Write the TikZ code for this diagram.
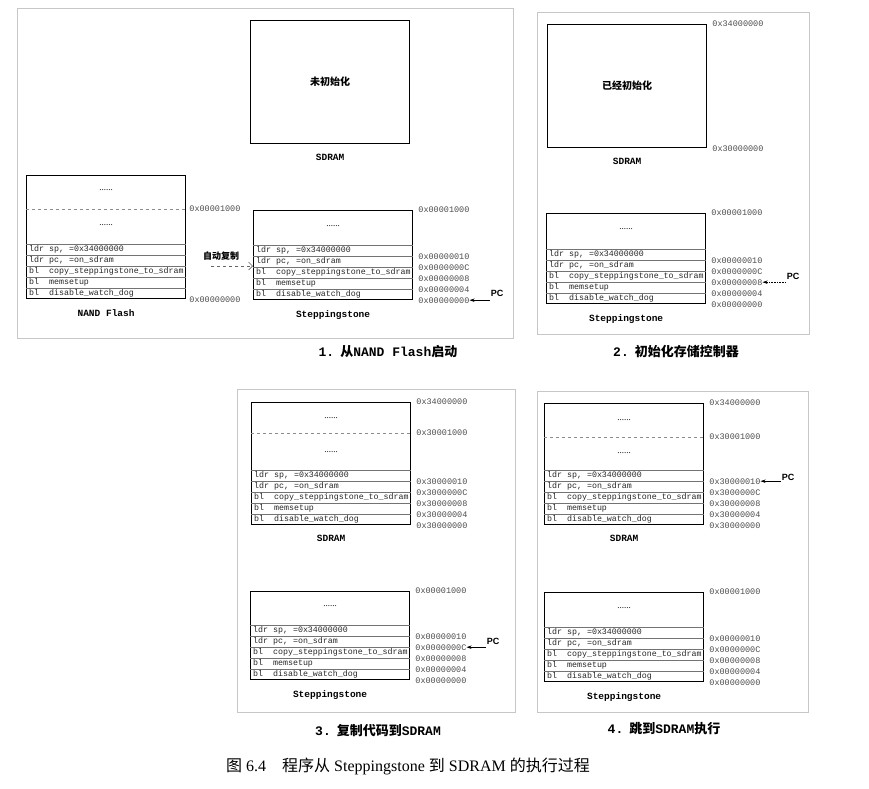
\documentclass[tikz,border=0pt]{standalone}
\usepackage{fontspec}
\setmainfont{Liberation Serif}
\setsansfont{Liberation Sans}
\setmonofont{Liberation Mono}
\newfontfamily\cjk{Noto Sans CJK SC}
\usetikzlibrary{arrows.meta, positioning, calc}

% five instruction rows at the bottom of a memory box
\newcommand{\coderows}[1]{%
  \foreach \i/\txt in {0/{bl\ \ disable\_watch\_dog}, 1/{bl\ \ memsetup}, 2/{bl\ \ copy\_steppingstone\_to\_sdram}, 3/{ldr pc, =on\_sdram}, 4/{ldr sp, =0x34000000}} {
    \node[instr] at ([xshift=3pt, yshift={\i*11pt+5.5pt}]#1.south west) {\txt};
    \draw[rowline] ([yshift={\i*11pt+11pt}]#1.south west) -- ([yshift={\i*11pt+11pt}]#1.south east);
  }}
% addresses beside the rows
\newcommand{\addrs}[2]{%
  \foreach \i/\a in {0/00, 1/04, 2/08, 3/0C, 4/10} {
    \node[addr] (#1-a\i) at ([xshift=5pt, yshift={\i*11pt}]#1.south east) {0x#2\a};
  }}

\begin{document}
\begin{tikzpicture}[x=1pt, y=-1pt,
    membox/.style={draw, line width=1.2pt, inner sep=0pt, minimum width=159pt, anchor=north west},
    instr/.style={font=\fontsize{8.3}{9}\selectfont\ttfamily, text=black!85, inner sep=0pt, anchor=west},
    addr/.style={font=\fontsize{8.5}{9}\selectfont\ttfamily, text=black!70, inner sep=0pt, anchor=west},
    rowline/.style={draw=black!55, line width=0.5pt},
    midline/.style={draw=black!45, line width=0.6pt, dashed},
    dotsrow/.style={font=\fontsize{9}{10}\selectfont, inner sep=0pt},
    boxlabel/.style={font=\fontsize{9.5}{10}\selectfont\ttfamily\bfseries, inner sep=0pt},
    boxnote/.style={font=\fontsize{10}{12}\selectfont\cjk\bfseries},
    paneltitle/.style={font=\fontsize{13}{15}\selectfont\ttfamily\bfseries},
    panelframe/.style={draw=black!22, line width=0.8pt},
    pclabel/.style={font=\fontsize{9}{10}\selectfont\sffamily\bfseries, inner sep=1pt},
    pcarrow/.style={draw, line width=0.6pt, -{Stealth[length=5pt, width=3.5pt]}},
    copyarrow/.style={draw=black!60, line width=0.6pt, dashed, -{Straight Barb[length=4pt]}}
]
\useasboundingbox (0,0) rectangle (869,788);

% panel frames
\draw[panelframe] (17,8) rectangle (513,338);
\draw[panelframe] (537,12) rectangle (809,334);
\draw[panelframe] (237,389) rectangle (515,712);
\draw[panelframe] (537,391) rectangle (808,712);

% 1. boot from NAND Flash
\node[membox, boxnote, minimum height=123pt] (sd1) at (250,20) {未初始化};
\node[boxlabel, below=10pt of sd1] (sd1-lbl) {SDRAM};

\node[membox, minimum height=123pt] (nand) at (26,175) {};
\node[dotsrow] (nand-d1) at ([yshift=-15pt]nand.north) {......};
\node[dotsrow] (nand-d2) at ([yshift=-50pt]nand.north) {......};
\draw[midline] ([yshift=-34pt]nand.north west) -- ([yshift=-34pt]nand.north east);
\node[addr] (nand-top) at ([xshift=3pt, yshift=-34pt]nand.north east) {0x00001000};
\node[addr] (nand-a0) at ([xshift=3pt]nand.south east) {0x00000000};
\coderows{nand}
\node[boxlabel, below=10pt of nand] (nand-lbl) {NAND Flash};

\node[membox, minimum height=89pt] (ss1) at (253,210) {};
\node[dotsrow] (ss1-d) at ([yshift=-16pt]ss1.north) {......};
\node[addr] (ss1-top) at ([xshift=5pt]ss1.north east) {0x00001000};
\coderows{ss1}
\addrs{ss1}{000000}
\node[boxlabel, below=10pt of ss1] (ss1-lbl) {Steppingstone};

\coordinate (cp1) at (211,266);
\draw[copyarrow] (cp1) -- (cp1 -| ss1.west);
\node[boxnote, font=\fontsize{9}{10}\selectfont\cjk\bfseries] (cp1-lbl) at (221,256) {自动复制};

\node[pclabel] (pc1) at (497,293) {PC};
\draw[pcarrow] (pc1.west |- ss1-a0.east) -- (ss1-a0.east);

\node[paneltitle] (t1) at (388,352) {1.\hspace{6pt}{\cjk 从}NAND Flash{\cjk 启动}};

% 2. init memory controller
\node[membox, boxnote, minimum height=123pt] (sd2) at (547,24) {已经初始化};
\node[addr] (sd2-top) at ([xshift=5pt]sd2.north east) {0x34000000};
\node[addr] (sd2-bot) at ([xshift=5pt]sd2.south east) {0x30000000};
\node[boxlabel, below=10pt of sd2] (sd2-lbl) {SDRAM};

\node[membox, minimum height=90pt] (ss2) at (546,213) {};
\node[dotsrow] (ss2-d) at ([yshift=-16pt]ss2.north) {......};
\node[addr] (ss2-top) at ([xshift=5pt]ss2.north east) {0x00001000};
\coderows{ss2}
\addrs{ss2}{000000}
\node[boxlabel, below=10pt of ss2] (ss2-lbl) {Steppingstone};

\node[pclabel] (pc2) at (793,276) {PC};
\draw[pcarrow, densely dotted] (pc2.west |- ss2-a2.east) -- (ss2-a2.east);

\node[paneltitle] (t2) at (676,352) {2.\hspace{6pt}{\cjk 初始化存储控制器}};

% 3. copy code to SDRAM
\node[membox, minimum height=122pt] (sd3) at (251,402) {};
\node[dotsrow] (sd3-d1) at ([yshift=-16pt]sd3.north) {......};
\node[dotsrow] (sd3-d2) at ([yshift=-50pt]sd3.north) {......};
\draw[midline] ([yshift=-31pt]sd3.north west) -- ([yshift=-31pt]sd3.north east);
\node[addr] (sd3-top) at ([xshift=5pt]sd3.north east) {0x34000000};
\node[addr] (sd3-mid) at ([xshift=5pt, yshift=-31pt]sd3.north east) {0x30001000};
\coderows{sd3}
\addrs{sd3}{300000}
\node[boxlabel, below=10pt of sd3] (sd3-lbl) {SDRAM};

\node[membox, minimum height=88pt] (ss3) at (250,591) {};
\node[dotsrow] (ss3-d) at ([yshift=-15pt]ss3.north) {......};
\node[addr] (ss3-top) at ([xshift=5pt]ss3.north east) {0x00001000};
\coderows{ss3}
\addrs{ss3}{000000}
\node[boxlabel, below=10pt of ss3] (ss3-lbl) {Steppingstone};

\node[pclabel] (pc3) at (493,641) {PC};
\draw[pcarrow] (pc3.west |- ss3-a3.east) -- (ss3-a3.east);

\node[paneltitle] (t3) at (378,731) {3.\hspace{6pt}{\cjk 复制代码到}SDRAM};

% 4. jump to SDRAM
\node[membox, minimum height=121pt] (sd4) at (544,403) {};
\node[dotsrow] (sd4-d1) at ([yshift=-17pt]sd4.north) {......};
\node[dotsrow] (sd4-d2) at ([yshift=-50pt]sd4.north) {......};
\draw[midline] ([yshift=-34pt]sd4.north west) -- ([yshift=-34pt]sd4.north east);
\node[addr] (sd4-top) at ([xshift=5pt]sd4.north east) {0x34000000};
\node[addr] (sd4-mid) at ([xshift=5pt, yshift=-34pt]sd4.north east) {0x30001000};
\coderows{sd4}
\addrs{sd4}{300000}
\node[boxlabel, below=10pt of sd4] (sd4-lbl) {SDRAM};

\node[membox, minimum height=89pt] (ss4) at (544,592) {};
\node[dotsrow] (ss4-d) at ([yshift=-16pt]ss4.north) {......};
\node[addr] (ss4-top) at ([xshift=5pt]ss4.north east) {0x00001000};
\coderows{ss4}
\addrs{ss4}{000000}
\node[boxlabel, below=10pt of ss4] (ss4-lbl) {Steppingstone};

\node[pclabel] (pc4) at (788,477) {PC};
\draw[pcarrow] (pc4.west |- sd4-a4.east) -- (sd4-a4.east);

\node[paneltitle] (t4) at (664,729) {4.\hspace{6pt}{\cjk 跳到}SDRAM{\cjk 执行}};

% caption
\node[font=\fontsize{16}{18}\selectfont] (cap) at (408,766) {{\cjk 图}~6.4\quad{\cjk 程序从}~Steppingstone~{\cjk 到}~SDRAM~{\cjk 的执行过程}};

\end{tikzpicture}
\end{document}
